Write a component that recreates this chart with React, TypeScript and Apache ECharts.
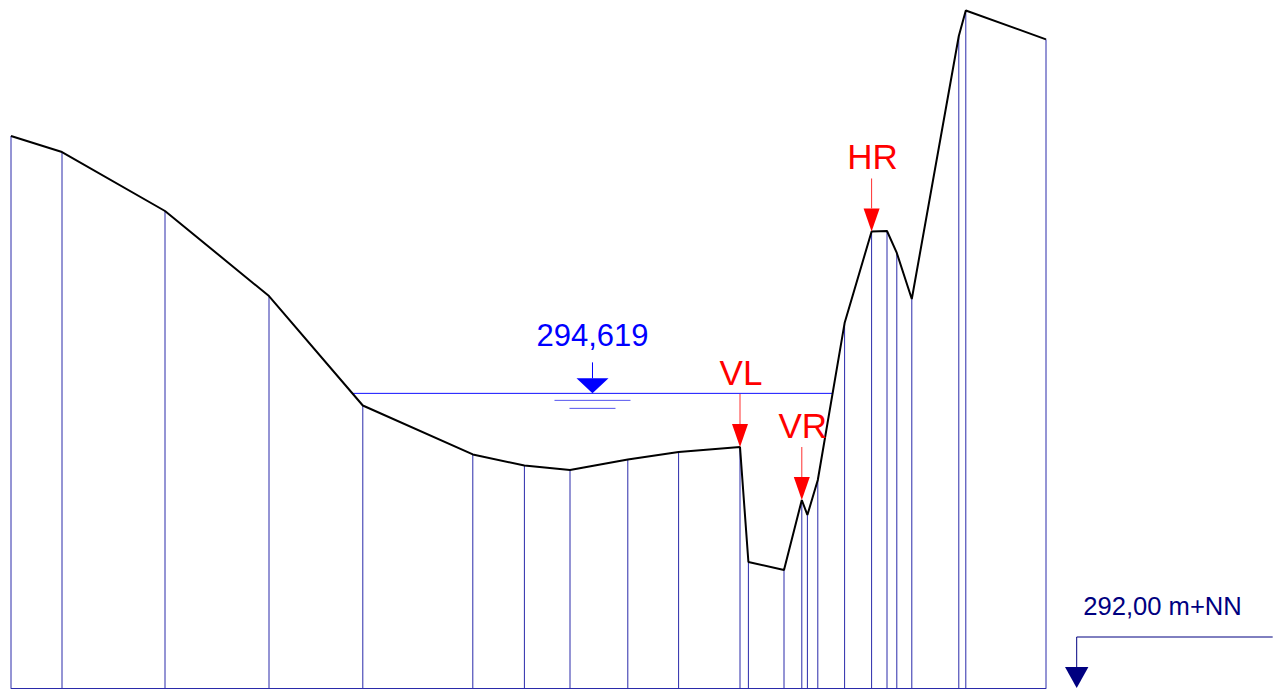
import React, { useEffect, useRef } from 'react';
import * as echarts from 'echarts';

// Cross-section profile: station [m] and ground elevation [m+NN]
const stations = [0, 2.55, 7.7, 12.9, 17.59, 23.09, 25.67, 27.95, 30.84, 33.38, 36.45, 36.87, 38.65, 39.54, 39.82, 40.34, 41.68, 43.03, 43.8, 44.29, 45.04, 47.39, 47.74, 51.75];
const elevations = [296.907, 296.764, 296.24, 295.484, 294.511, 294.076, 293.978, 293.938, 294.031, 294.098, 294.142, 293.12, 293.049, 293.671, 293.538, 293.849, 295.244, 296.058, 296.062, 295.867, 295.458, 297.796, 298.022, 297.766];

// Marked points (index into profile)
const markerLabels = ['VL', 'VR', 'HR'];
const markerIndices = [10, 13, 17];

// Water level and datum
const waterLevel = 294.619;
const waterLabel = '294,619';
const datumLevel = 292.0;
const datumLabel = '292,00 m+NN';

const FONT = '"Liberation Sans", Arial, sans-serif';

function crossings(level: number): number[] {
  const out: number[] = [];
  for (let i = 0; i < stations.length - 1; i++) {
    const a = elevations[i] - level;
    const b = elevations[i + 1] - level;
    if (a * b < 0) {
      const t = a / (a - b);
      out.push(stations[i] + t * (stations[i + 1] - stations[i]));
    }
  }
  return out;
}

export default function App() {
  const ref = useRef<HTMLDivElement>(null);

  useEffect(() => {
    if (!ref.current) return;
    const chart = echarts.init(ref.current, undefined, { renderer: 'svg' });
    const cr = crossings(waterLevel);
    const wl = cr[0];
    const wr = cr[cr.length - 1];
    const profile = stations.map((s, i) => [s, elevations[i]]);
    const lastStation = stations[stations.length - 1];

    const option: any = {
      animation: false,
      backgroundColor: '#ffffff',
      grid: { left: 11, top: 0, width: 1035, height: 688, containLabel: false },
      xAxis: {
        type: 'value',
        min: stations[0],
        max: lastStation,
        axisLine: { show: true, lineStyle: { color: '#2a2aaa', width: 1 } },
        axisTick: { show: false },
        axisLabel: { show: false },
        splitLine: { show: false },
      },
      yAxis: {
        type: 'value',
        min: datumLevel,
        max: datumLevel + 688 / 112.5,
        show: false,
        splitLine: { show: false },
      },
      series: [
        {
          type: 'custom',
          name: 'verticals',
          z: 1,
          data: profile,
          renderItem: (params: any, api: any) => {
            const top = api.coord([api.value(0), api.value(1)]);
            const bot = api.coord([api.value(0), datumLevel]);
            return {
              type: 'line',
              shape: { x1: top[0], y1: top[1], x2: bot[0], y2: bot[1] },
              style: { stroke: '#2a2aaa', lineWidth: 1 },
            };
          },
        },
        {
          type: 'custom',
          name: 'water',
          z: 2,
          data: [[wl, waterLevel, wr]],
          renderItem: (params: any, api: any) => {
            const a = api.coord([api.value(0), api.value(1)]);
            const b = api.coord([api.value(2), api.value(1)]);
            const cx = (a[0] + b[0]) / 2;
            const y = a[1];
            return {
              type: 'group',
              children: [
                { type: 'line', shape: { x1: a[0], y1: y, x2: b[0], y2: y }, style: { stroke: '#1010ff', lineWidth: 1 } },
                { type: 'polygon', shape: { points: [[cx - 16, y - 15], [cx + 16, y - 15], [cx, y]] }, style: { fill: '#0000ff' } },
                { type: 'line', shape: { x1: cx, y1: y - 15, x2: cx, y2: y - 31 }, style: { stroke: '#0000ff', lineWidth: 1 } },
                { type: 'line', shape: { x1: cx - 38, y1: y + 7, x2: cx + 38, y2: y + 7 }, style: { stroke: '#5555ee', lineWidth: 1 } },
                { type: 'line', shape: { x1: cx - 23, y1: y + 15, x2: cx + 23, y2: y + 15 }, style: { stroke: '#5555ee', lineWidth: 1 } },
                {
                  type: 'text',
                  style: { text: waterLabel, x: cx, y: y - 57.5, textAlign: 'center', textVerticalAlign: 'middle', fill: '#0000ff', font: `31px ${FONT}` },
                },
              ],
            };
          },
        },
        {
          type: 'line',
          name: 'profile',
          z: 3,
          data: profile,
          symbol: 'none',
          lineStyle: { color: '#000000', width: 2 },
        },
        {
          type: 'custom',
          name: 'markers',
          z: 4,
          data: markerIndices.map((idx, k) => [stations[idx], elevations[idx], k]),
          renderItem: (params: any, api: any) => {
            const p = api.coord([api.value(0), api.value(1)]);
            const label = markerLabels[params.dataIndex];
            return {
              type: 'group',
              children: [
                { type: 'polygon', shape: { points: [[p[0] - 8, p[1] - 23], [p[0] + 8, p[1] - 23], [p[0], p[1]]] }, style: { fill: '#ff0000' } },
                { type: 'line', shape: { x1: p[0], y1: p[1] - 23, x2: p[0], y2: p[1] - 53 }, style: { stroke: '#ff3030', lineWidth: 1 } },
                {
                  type: 'text',
                  style: { text: label, x: p[0] + 1, y: p[1] - 75, textAlign: 'center', textVerticalAlign: 'middle', fill: '#ff0000', font: `35px ${FONT}` },
                },
              ],
            };
          },
        },
        {
          type: 'custom',
          name: 'datum',
          z: 4,
          clip: false,
          data: [[lastStation, datumLevel]],
          renderItem: (params: any, api: any) => {
            const p = api.coord([api.value(0), api.value(1)]);
            const x = p[0] + 30.7;
            const y = p[1];
            return {
              type: 'group',
              children: [
                { type: 'polygon', shape: { points: [[x - 11.7, y - 21], [x + 11.7, y - 21], [x, y]] }, style: { fill: '#000080' } },
                { type: 'line', shape: { x1: x, y1: y - 21, x2: x, y2: y - 51 }, style: { stroke: '#000080', lineWidth: 1 } },
                { type: 'line', shape: { x1: x, y1: y - 51, x2: x + 196, y2: y - 51 }, style: { stroke: '#000080', lineWidth: 1 } },
                {
                  type: 'text',
                  style: { text: datumLabel, x: x + 6.5, y: y - 82.5, textAlign: 'left', textVerticalAlign: 'middle', fill: '#000080', font: `25.6px ${FONT}` },
                },
              ],
            };
          },
        },
      ],
    };
    chart.setOption(option);
    return () => chart.dispose();
  }, []);

  return <div ref={ref} style={{ position: 'absolute', left: 0, top: 0, width: 1277, height: 689 }} />;
}
